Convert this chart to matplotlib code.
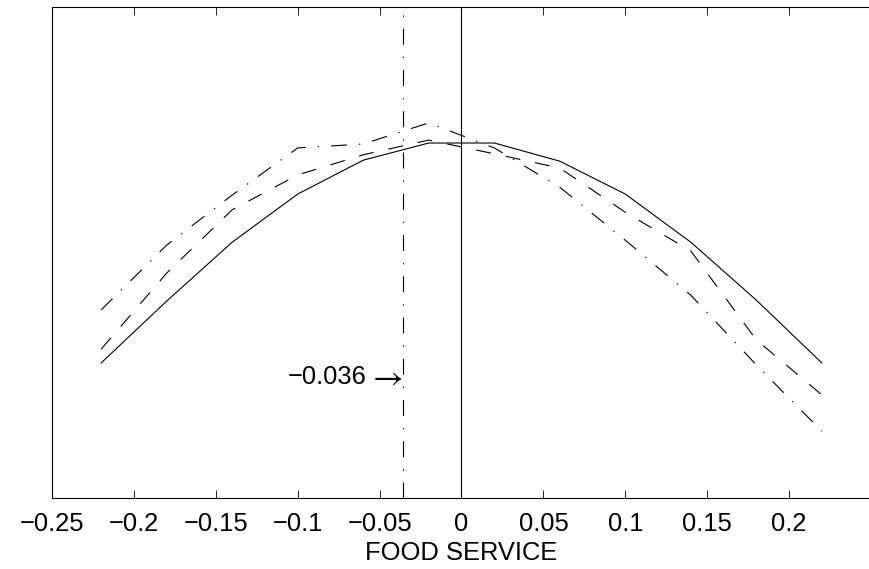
import matplotlib
matplotlib.use("Agg")
import matplotlib.pyplot as plt
from matplotlib.transforms import blended_transform_factory

plt.rcParams['font.family'] = ['Liberation Sans', 'DejaVu Sans']
plt.rcParams['lines.scale_dashes'] = False

# data
x_vals = [-0.22, -0.18, -0.14, -0.10, -0.06, -0.02, 0.02, 0.06, 0.10, 0.14, 0.18, 0.22]
solid_vals = [0.275, 0.401, 0.521, 0.619, 0.688, 0.723, 0.723, 0.686, 0.619, 0.521, 0.403, 0.275]
dashed_vals = [0.303, 0.458, 0.587, 0.658, 0.699, 0.729, 0.701, 0.672, 0.582, 0.503, 0.322, 0.210]
dashdot_vals = [0.383, 0.515, 0.617, 0.713, 0.721, 0.764, 0.713, 0.633, 0.525, 0.413, 0.271, 0.136]
optimum = -0.036
zero_line = 0.0
x_ticks = [-0.25, -0.2, -0.15, -0.1, -0.05, 0, 0.05, 0.1, 0.15, 0.2]
x_ticklabels = ['\u22120.25', '\u22120.2', '\u22120.15', '\u22120.1', '\u22120.05', '0', '0.05', '0.1', '0.15', '0.2']
x_label = 'FOOD SERVICE'
annot_text = '\u22120.036'
arrow_text = r'$\rightarrow$'

fig = plt.figure(figsize=(8.69, 5.69), dpi=100)
ax = fig.add_axes([52/869, 71/569, 819/869, 491/569])

lw = 0.8
dash_style = (0, (10.8, 10.8))
dashdot_style = (0, (11.5, 8.6, 1.0, 8.6))

ax.plot(x_vals, solid_vals, color='black', lw=lw, linestyle='-')
ax.plot(x_vals, dashed_vals, color='black', lw=lw, linestyle=dash_style)
ax.plot(x_vals, dashdot_vals, color='black', lw=lw, linestyle=dashdot_style)

ax.axvline(zero_line, color='black', lw=lw, linestyle='-')
ax.axvline(optimum, color='black', lw=lw, linestyle=dashdot_style)

trans = blended_transform_factory(ax.transData, ax.transAxes)
ax.annotate(arrow_text, xy=(optimum, 0.246), xycoords=trans,
            xytext=(0.5, 0), textcoords='offset points',
            ha='right', va='center', fontsize=24, color='black',
            math_fontfamily='stix')
ax.annotate(annot_text, xy=(optimum, 0.246), xycoords=trans,
            xytext=(-25.5, 0), textcoords='offset points',
            ha='right', va='center', fontsize=18.4, color='black')

ax.set_xlim(-0.25, 0.25)
ax.set_ylim(0, 1)
ax.set_xticks(x_ticks)
ax.set_xticklabels(x_ticklabels)
ax.set_yticks([])
ax.tick_params(axis='x', direction='in', top=True, bottom=True, length=5.8,
               width=0.6, labelsize=18.4, pad=10)
ax.set_xlabel(x_label, fontsize=18.4, labelpad=4)
for s in ax.spines.values():
    s.set_linewidth(0.8)

fig.savefig('out.png', dpi=100)
